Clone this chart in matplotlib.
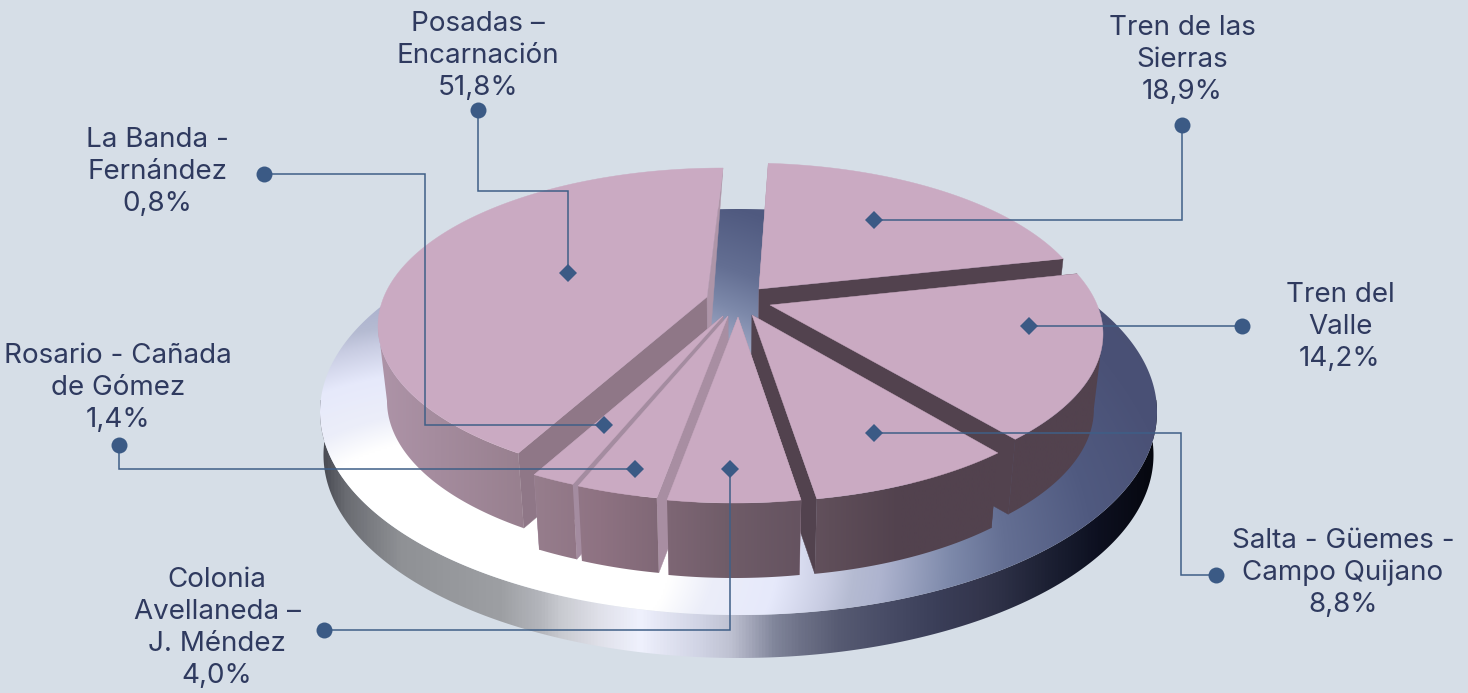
import numpy as np
import matplotlib
matplotlib.use("Agg")
import matplotlib.pyplot as plt
from matplotlib.patches import Polygon
from matplotlib.colors import LinearSegmentedColormap, to_rgb

# ---- data ----
categories = ["Tren de las\nSierras", "Tren del\nValle", "Salta - Güemes -\nCampo Quijano",
              "Colonia\nAvellaneda –\nJ. Méndez", "Rosario - Cañada\nde Gómez",
              "La Banda -\nFernández", "Posadas –\nEncarnación"]
shares = [18.9, 14.2, 8.8, 4.0, 1.4, 0.8, 51.8]
# angular extent of each slice as drawn (the picture is not proportional to its labels)
slice_start_deg = [3.7, 67.6, 133.6, 168.8, 191.4, 204.9, 216.4]
slice_end_deg = [66.8, 131.8, 168.5, 191.2, 205.2, 212.2, 360.0]

# ---- layout ----
W, H = 1468, 693
BG = "#D6DEE7"
TOP = "#CAAAC2"
TEXT = "#2F3A5F"
LINE = "#3F5F87"
RX, RY = 345, 158
DEPTH = 75
SHRINK = 0.975
MID = 738
centers = [(746, 321), (758, 334), (748, 344), (734, 345), (725, 343), (718, 341), (723, 326)]
apexes = [(759, 289), (770, 305), (752, 315), (738, 317), (728, 316), (723, 316), (707, 297)]
start_cut = ["#AE95A8", "#52424E", "#52424E", "#A88EA2", "#A88EA2", "#A48CA0", "#8F7787"]
end_cut = ["#52424E", "#52424E", "#52424E", "#A88EA2", "#A88EA2", "#A48CA0", "#AE95A8"]
order = [0, 6, 1, 2, 5, 4, 3]
label_pos = [(1182, 60), (1340, 327), (1343, 573), (217, 628), (118, 388), (157, 172), (478, 56)]
leaders = [
    [(1182, 125), (1182, 220), (874, 220)],
    [(1242, 326), (1029, 326)],
    [(1216, 575), (1181, 575), (1181, 433), (874, 433)],
    [(324, 630), (730, 630), (730, 469)],
    [(119, 445), (119, 469), (635, 469)],
    [(264, 174), (425, 174), (425, 425), (604, 425)],
    [(478, 110), (478, 191), (568, 191), (568, 273)],
]

fig = plt.figure(figsize=(W / 100, H / 100), dpi=100, facecolor=BG)
ax = fig.add_axes([0, 0, 1, 1])
ax.set_axis_off()


def lower(pts):
    pts = np.asarray(pts, float)
    return np.column_stack([MID + (pts[:, 0] - MID) * SHRINK, pts[:, 1] + DEPTH])


def gradient_h(stops, x0, x1, y0, y1, clip, z):
    cmap = LinearSegmentedColormap.from_list(
        "g", [((x - x0) / (x1 - x0), c) for x, c in stops])
    img = np.linspace(0, 1, 1024)[None, :]
    im = ax.imshow(img, extent=(x0, x1, y1, y0), cmap=cmap, vmin=0, vmax=1,
                   aspect="auto", zorder=z, interpolation="bilinear")
    patch = Polygon(clip, closed=True, transform=ax.transData, fc="none", ec="none")
    ax.add_patch(patch)
    im.set_clip_path(patch)


# ---- platform disk ----
t = np.radians(np.linspace(0, 360, 721))
dcx, dcy, drx, dry = 738.5, 412, 418.5, 203
face = np.column_stack([dcx + drx * np.cos(t), dcy + dry * np.sin(t)])
tt = np.radians(np.linspace(-5, 185, 381))
rim_top = np.column_stack([dcx + drx * np.cos(tt), dcy + dry * np.sin(tt)])
rim_low = np.column_stack([dcx + 415 * np.cos(tt), 455 + dry * np.sin(tt)])
rim = np.vstack([rim_top, rim_low[::-1]])
rim_stops = [(318, "#44464E"), (345, "#6A6C72"), (400, "#8F9195"), (500, "#9D9FA3"), (540, "#B4B6BC"),
             (560, "#C8CAD0"), (600, "#E0E1EA"), (640, "#EFF1FD"), (660, "#E4E6F4"), (700, "#D0D3E4"),
             (730, "#BFC2D2"), (750, "#A4A7BA"), (775, "#80859A"), (800, "#6E7288"), (840, "#565A72"),
             (880, "#4A4E68"), (940, "#3A3E58"), (980, "#34364D"), (1000, "#2E3147"), (1050, "#1C2033"),
             (1100, "#0D1020"), (1160, "#05070E")]
gradient_h(rim_stops, 318, 1160, 400, 665, rim, 1)

gy, gx = np.mgrid[205:620:2, 318:1160:2]
dist = np.hypot(gx - 470, (gy - 560) * 1.6)
stops_d = [0, 200, 243, 306, 358, 383, 410, 480, 534, 621, 708, 900]
cols_d = ["#FFFFFF", "#FFFFFF", "#ECEEF9", "#E6E9FB", "#C8CCE2", "#B5BBD2", "#AEB4CF", "#7D89AA", "#646F93",
          "#505A80", "#4A5176", "#454C70"]
rgb = np.array([to_rgb(c) for c in cols_d])
img = np.dstack([np.interp(dist, stops_d, rgb[:, i]) for i in range(3)])
im = ax.imshow(img, extent=(318, 1160, 620, 205), aspect="auto", zorder=2, interpolation="bilinear")
pf = Polygon(face, closed=True, fc="none", ec="none", transform=ax.transData)
ax.add_patch(pf)
im.set_clip_path(pf)

# ---- slices ----
side_stops = [(375, "#AE94A8"), (520, "#98808F"), (600, "#8E7282"), (730, "#6F5C68"), (800, "#655360"),
              (830, "#5F4E59"), (900, "#52424E"), (1110, "#52424E")]
z = 3
for i in order:
    cx, cy = centers[i]
    a0, a1 = np.radians(slice_start_deg[i]), np.radians(slice_end_deg[i])
    th = np.linspace(a0, a1, 400)
    arc = np.column_stack([cx + RX * np.sin(th), cy - RY * np.cos(th)])
    apex = np.array([apexes[i]], float)
    alow = lower(apex)
    arc_low = lower(arc)
    sface = [arc[0], apex[0], alow[0], arc_low[0]]
    eface = [arc[-1], apex[0], alow[0], arc_low[-1]]
    if i == 6:
        eface = [arc[-1], apex[0], alow[0]]
    ax.add_patch(Polygon(sface, closed=True, fc=start_cut[i], ec=start_cut[i], lw=0.3, zorder=z))
    ax.add_patch(Polygon(eface, closed=True, fc=end_cut[i], ec=end_cut[i], lw=0.3, zorder=z))
    z += 1
    front = np.cos(th) <= 0.005
    if front.any():
        gradient_h(side_stops, 375, 1110, 150, 600, np.vstack([arc[front], arc_low[front][::-1]]), z)
    z += 1
    ax.add_patch(Polygon(np.vstack([apex, arc]), closed=True, fc=TOP, ec=TOP, lw=0.3, zorder=z))
    z += 1

# ---- leaders and labels ----
for i, pts in enumerate(leaders):
    p = np.array(pts, float)
    ax.plot(p[:, 0], p[:, 1], color=LINE, lw=1.1, zorder=60, solid_joinstyle="miter")
    ax.plot(p[0, 0], p[0, 1], "o", color="#3B5A85", ms=11.5, mew=0, zorder=61)
    ax.plot(p[-1, 0], p[-1, 1], "D", color="#3B5A85", ms=9.4, mew=0, zorder=61)
    x, y = label_pos[i]
    pct = f"{shares[i]:.1f}%".replace(".", ",")
    ax.text(x, y, f"{categories[i]}\n{pct}", ha="center", va="center", color=TEXT,
            fontsize=20, family="Inter", linespacing=1.29, zorder=70)

ax.set_xlim(0, W)
ax.set_ylim(H, 0)
fig.savefig("out.png", dpi=100, facecolor=BG)
